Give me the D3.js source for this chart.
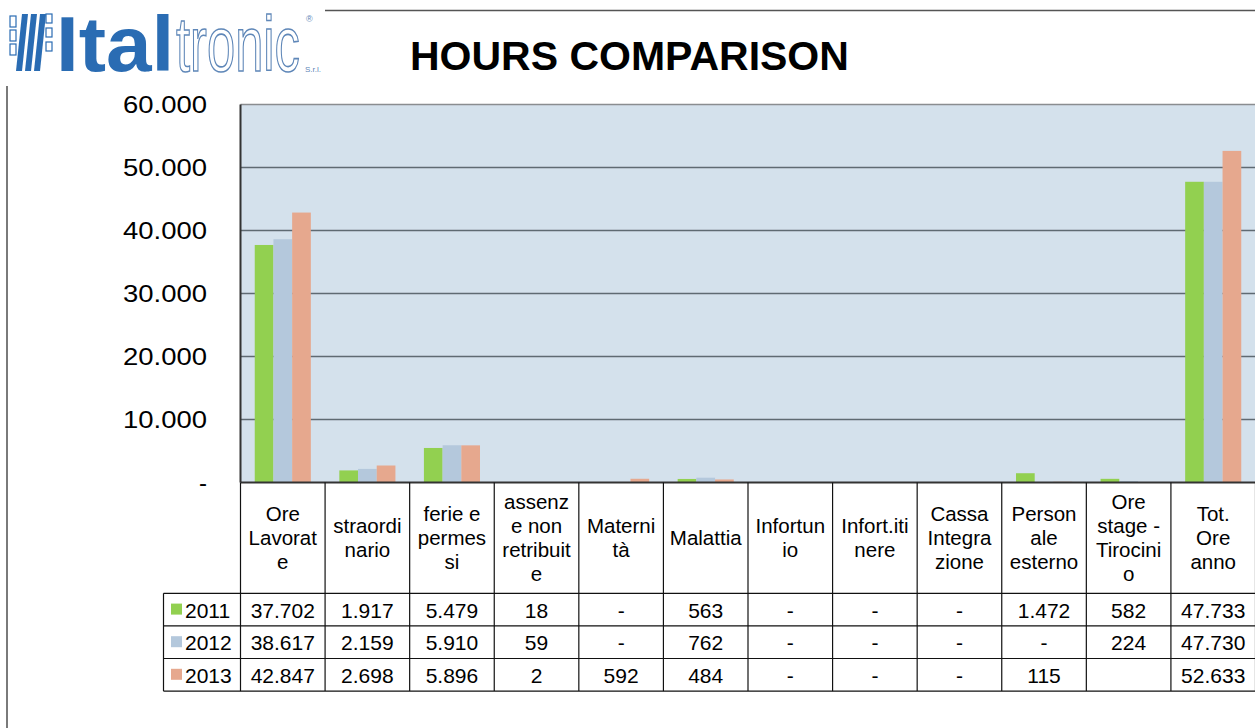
<!DOCTYPE html>
<html>
<head>
<meta charset="utf-8">
<script src="https://cdn.jsdelivr.net/npm/d3@7"></script>
<style>
  body { margin: 0; background: #fff; }
  svg { display: block; font-family: "Liberation Sans", Arial, sans-serif; }
</style>
</head>
<body>
<div id="chart"></div>
<script>
// chart values
const categories = ["Ore Lavorate", "straordinario", "ferie e permessi", "assenze non retribuite",
  "Maternità", "Malattia", "Infortunio", "Infort.itinere", "Cassa Integrazione",
  "Personale esterno", "Ore stage - Tirocinio", "Tot. Ore anno"];
// how the header cells wrap in the table
const headerLines = [
  ["Ore", "Lavorat", "e"], ["straordi", "nario"], ["ferie e", "permes", "si"],
  ["assenz", "e non", "retribuit", "e"], ["Materni", "tà"], ["Malattia"],
  ["Infortun", "io"], ["Infort.iti", "nere"], ["Cassa", "Integra", "zione"],
  ["Person", "ale", "esterno"], ["Ore", "stage -", "Tirocini", "o"], ["Tot.", "Ore", "anno"]
];
const years = ["2011", "2012", "2013"];
// 0 shows as "-", null is an empty cell
const values2011 = [37702, 1917, 5479, 18, 0, 563, 0, 0, 0, 1472, 582, 47733];
const values2012 = [38617, 2159, 5910, 59, 0, 762, 0, 0, 0, 0, 224, 47730];
const values2013 = [42847, 2698, 5896, 2, 592, 484, 0, 0, 0, 115, null, 52633];
const yTicks = [0, 10000, 20000, 30000, 40000, 50000, 60000];

const seriesValues = [values2011, values2012, values2013];
const colors = ["#92d050", "#b4c8dc", "#e6a88e"];

const W = 1255, H = 728;
const plot = { left: 240.5, right: 1255.5, top: 104.5, bottom: 482.5 };
const headerBottom = 593.3, rowH = 32.6;

const it = d3.formatLocale({ decimal: ",", thousands: ".", grouping: [3], currency: ["", "€"] });
const fmt = it.format(",d");
const cellText = v => v == null ? "" : (v === 0 ? "-" : fmt(v));

const svg = d3.select("#chart").append("svg")
  .attr("width", W).attr("height", H);

// ---- logo ----
const logo = svg.append("g");
const blue = "#2a6cb3";
[0, 1, 2].forEach(i => {
  const x0 = 16 + i * 9;
  logo.append("path")
    .attr("d", `M${x0 + 6},14 L${x0 + 12},14 L${x0 + 6},71 L${x0},71 Z`)
    .attr("fill", blue);
});
[16, 30, 44].forEach(y => {
  logo.append("rect").attr("x", 10).attr("y", y).attr("width", 6).attr("height", 11)
    .attr("fill", "none").attr("stroke", blue).attr("stroke-width", 1.2);
  logo.append("rect").attr("x", 46).attr("y", y - 2).attr("width", 6).attr("height", 9)
    .attr("fill", "none").attr("stroke", blue).attr("stroke-width", 1.2);
});
logo.append("text").attr("transform", "translate(56,71) scale(1.05,1)")
  .attr("font-size", 78).attr("font-weight", "bold").attr("fill", blue)
  .text("Ital");
// thin outlined, condensed "tronic"
logo.append("text").attr("transform", "translate(176,71) scale(0.65,1)")
  .attr("font-size", 78).attr("fill", "#fff").attr("stroke", "#5f87b8").attr("stroke-width", 1.6)
  .text("tronic");
logo.append("text").attr("x", 306).attr("y", 22).attr("font-size", 9).attr("fill", "#5f87b8").text("®");
logo.append("text").attr("x", 305).attr("y", 72).attr("font-size", 8).attr("fill", "#5f87b8").text("S.r.l.");

// frame lines
svg.append("line").attr("x1", 325).attr("x2", W).attr("y1", 10.5).attr("y2", 10.5)
  .attr("stroke", "#555").attr("stroke-width", 1.5);
svg.append("line").attr("x1", 7).attr("x2", 7).attr("y1", 86).attr("y2", H)
  .attr("stroke", "#7a7a7a").attr("stroke-width", 2);

// title
svg.append("text").attr("x", 410).attr("y", 70)
  .attr("font-size", 41).attr("font-weight", "bold").attr("fill", "#000")
  .text("HOURS COMPARISON");

// ---- scales ----
const x = d3.scaleBand().domain(categories).range([plot.left, plot.right]).padding(0);
const xs = d3.scaleBand().domain(years).range([0, x.bandwidth()]).paddingInner(0).paddingOuter(0.762);
const y = d3.scaleLinear().domain([0, 60000]).range([plot.bottom, plot.top]);

// plot background
svg.append("rect").attr("x", plot.left).attr("y", plot.top)
  .attr("width", plot.right - plot.left).attr("height", plot.bottom - plot.top)
  .attr("fill", "#d4e1ec");

// gridlines
svg.append("g").selectAll("line").data(yTicks.filter(t => t > 0)).join("line")
  .attr("x1", plot.left).attr("x2", plot.right)
  .attr("y1", d => y(d)).attr("y2", d => y(d))
  .attr("stroke", d => d === 60000 ? "#8a8d90" : "#5f6a72").attr("stroke-width", 1.6);

// y labels
svg.append("g").selectAll("text").data(yTicks).join("text")
  .attr("x", 207).attr("y", d => y(d) + 8)
  .attr("text-anchor", "end").attr("font-size", 24)
  .attr("textLength", d => d === 0 ? null : 84).attr("lengthAdjust", "spacingAndGlyphs")
  .text(d => d === 0 ? "-" : fmt(d));

// bars
const groups = svg.append("g").selectAll("g").data(categories).join("g")
  .attr("transform", d => `translate(${x(d)},0)`);
groups.selectAll("rect")
  .data((d, i) => years.map((yr, s) => ({ yr, s, v: seriesValues[s][i] || 0 })))
  .join("rect")
  .attr("x", d => xs(d.yr)).attr("width", xs.bandwidth())
  .attr("y", d => y(d.v)).attr("height", d => y(0) - y(d.v))
  .attr("fill", d => colors[d.s]);

// plot frame: left + bottom axis line
svg.append("line").attr("x1", plot.left).attr("x2", plot.left).attr("y1", plot.top).attr("y2", plot.bottom)
  .attr("stroke", "#333").attr("stroke-width", 2);
svg.append("line").attr("x1", plot.left).attr("x2", plot.right).attr("y1", plot.bottom).attr("y2", plot.bottom)
  .attr("stroke", "#333").attr("stroke-width", 2);

// ---- data table ----
const table = svg.append("g").attr("stroke", "#111").attr("stroke-width", 1.2);
const tableBottom = headerBottom + rowH * 3;
// column lines
table.selectAll("line.col").data(categories.concat(["end"])).join("line")
  .attr("x1", (d, i) => i < categories.length ? x(d) : plot.right)
  .attr("x2", (d, i) => i < categories.length ? x(d) : plot.right)
  .attr("y1", plot.bottom).attr("y2", tableBottom);
// row lines
[0, 1, 2, 3].forEach(r => {
  table.append("line").attr("x1", 163.5).attr("x2", plot.right)
    .attr("y1", headerBottom + r * rowH).attr("y2", headerBottom + r * rowH);
});
table.append("line").attr("x1", 163.5).attr("x2", 163.5).attr("y1", headerBottom).attr("y2", tableBottom);

// header text
const hc = (plot.bottom + headerBottom) / 2 + 7;
svg.append("g").selectAll("text").data(categories).join("text")
  .attr("text-anchor", "middle").attr("font-size", 20.5)
  .each(function (d, i) {
    const lines = headerLines[i];
    d3.select(this).selectAll("tspan").data(lines).join("tspan")
      .attr("x", x(d) + x.bandwidth() / 2)
      .attr("y", (l, j) => hc + (j - (lines.length - 1) / 2) * 24)
      .text(l => l);
  });

// legend cells + values
years.forEach((yr, s) => {
  const cy = headerBottom + rowH * s + rowH / 2;
  svg.append("rect").attr("x", 171).attr("y", cy - 6).attr("width", 11).attr("height", 11)
    .attr("fill", colors[s]);
  svg.append("text").attr("x", 185).attr("y", cy + 8).attr("font-size", 21).text(yr);
  svg.append("g").selectAll("text").data(categories).join("text")
    .attr("x", d => x(d) + x.bandwidth() / 2).attr("y", cy + 8)
    .attr("text-anchor", "middle").attr("font-size", 21)
    .text((d, i) => cellText(seriesValues[s][i]));
});
</script>
</body>
</html>
